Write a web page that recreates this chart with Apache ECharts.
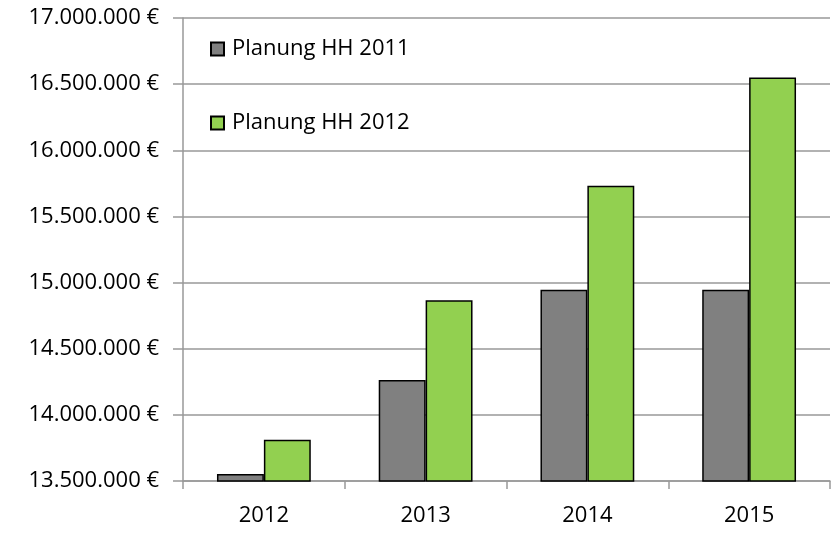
<!DOCTYPE html>
<html lang="de">
<head>
    <meta charset="UTF-8">
    <title>Planung HH</title>
    <script src="https://cdn.jsdelivr.net/npm/echarts@6/dist/echarts.min.js"></script>
    <style>
        html, body { margin: 0; padding: 0; background: #fff; }
    </style>
</head>
<body>
    <div id="chart" style="width: 837px; height: 540px;"></div>
    <script type="text/javascript">
        // Data
        const years = ['2012', '2013', '2014', '2015'];
        const planung2011 = [13553000, 14264000, 14945000, 14945000];
        const planung2012 = [13812000, 14867000, 15731000, 16551000];
        const seriesNames = ['Planung HH 2011', 'Planung HH 2012'];

        const FONT = 'Open Sans';
        const FONT_SIZE = 22;

        function formatEuro(v) {
            return String(v).replace(/\B(?=(\d{3})+(?!\d))/g, '.') + ' €';
        }

        const chart = echarts.init(document.getElementById('chart'));

        chart.setOption({
            animation: false,
            textStyle: { fontFamily: FONT },
            grid: { left: 183, right: 7, top: 18, bottom: 59 },
            legend: {
                orient: 'vertical',
                left: 210,
                top: 36,
                padding: 0,
                itemGap: 48,
                itemWidth: 13,
                itemHeight: 13,
                icon: 'rect',
                data: seriesNames,
                textStyle: { fontFamily: FONT, fontSize: FONT_SIZE, color: '#000', lineHeight: 26, padding: [0, 0, 0, 3] }
            },
            xAxis: {
                type: 'category',
                data: years,
                axisLine: { lineStyle: { color: '#999', width: 1.5 } },
                axisTick: { show: true, length: 8, lineStyle: { color: '#999', width: 1.5 } },
                axisLabel: { fontFamily: FONT, fontSize: FONT_SIZE, color: '#000', margin: 24 },
                splitLine: { show: false }
            },
            yAxis: {
                type: 'value',
                min: 13500000,
                max: 17000000,
                interval: 500000,
                axisLine: { show: true, lineStyle: { color: '#999', width: 1.5 } },
                axisTick: { show: true, length: 10, lineStyle: { color: '#999', width: 1.5 } },
                axisLabel: { fontFamily: FONT, fontSize: FONT_SIZE, color: '#000', margin: 24, formatter: formatEuro },
                splitLine: { lineStyle: { color: '#999', width: 1.5 } }
            },
            series: [
                {
                    name: seriesNames[0],
                    type: 'bar',
                    data: planung2011,
                    barGap: '0%',
                    barCategoryGap: '42%',
                    itemStyle: { color: '#808080', borderColor: '#000', borderWidth: 1.5 }
                },
                {
                    name: seriesNames[1],
                    type: 'bar',
                    data: planung2012,
                    barGap: '0%',
                    barCategoryGap: '42%',
                    itemStyle: { color: '#92D050', borderColor: '#000', borderWidth: 1.5 }
                }
            ]
        });
    </script>
</body>
</html>
